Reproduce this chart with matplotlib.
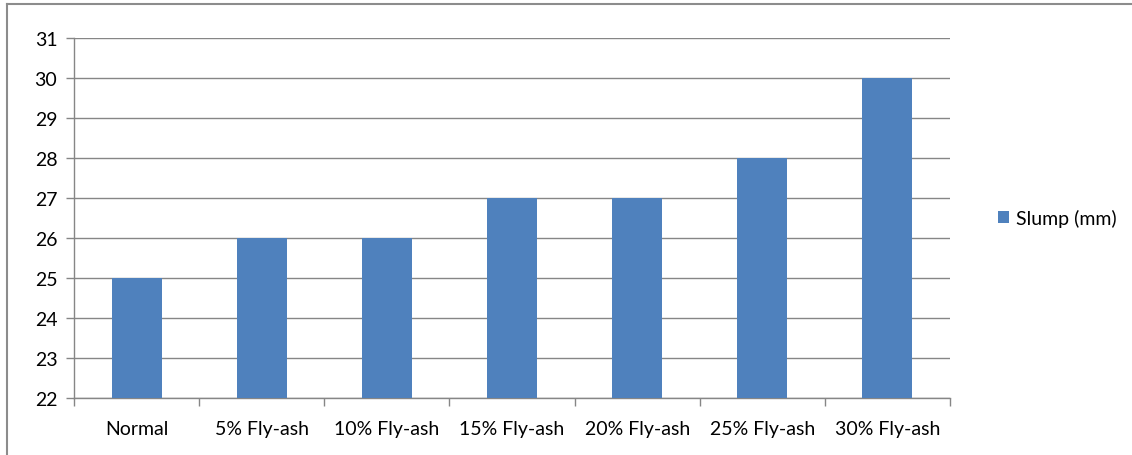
import numpy as np
import matplotlib.pyplot as plt
from matplotlib.lines import Line2D

categories = ["Normal", "5% Fly-ash", "10% Fly-ash", "15% Fly-ash",
              "20% Fly-ash", "25% Fly-ash", "30% Fly-ash"]
slump = [25, 26, 26, 27, 27, 28, 30]
series_name = "Slump (mm)"
y_ticks = list(range(22, 32))

plt.rcParams['font.family'] = ['Lato', 'DejaVu Sans']

W, H = 1132, 456
fig = plt.figure(figsize=(W / 100, H / 100), dpi=100)
ax = fig.add_axes([74 / W, 1 - 399 / H, (950 - 74) / W, (399 - 39) / H])

grid_col = "#868686"
bar_col = "#4f81bd"
fs = 14

x = np.arange(len(categories))
ax.bar(x, slump, width=0.4, color=bar_col, zorder=3, label=series_name)

ax.set_xlim(-0.5, len(categories) - 0.5)
ax.set_ylim(22, 31)
ax.set_yticks(y_ticks)
ax.yaxis.grid(True, color=grid_col, linewidth=1.0, zorder=0)
ax.set_axisbelow(True)

# category labels centered, tick marks at boundaries
ax.set_xticks(x)
ax.set_xticklabels(categories)
ax.tick_params(axis='x', length=0, pad=16, labelsize=fs)
ax.set_xticks(np.arange(-0.5, len(categories)), minor=True)
ax.tick_params(axis='x', which='minor', length=6, color=grid_col, width=1)
ax.tick_params(axis='y', length=6, color=grid_col, width=1, pad=6, labelsize=fs)

for side in ['top', 'right']:
    ax.spines[side].set_visible(False)
for side in ['left', 'bottom']:
    ax.spines[side].set_color(grid_col)
    ax.spines[side].set_linewidth(1)

ax.legend(loc='center left', bbox_to_anchor=(1.035, 0.5), frameon=False,
          fontsize=fs, handlelength=0.55, handleheight=0.55, handletextpad=0.35)

# chart outer border (top and left visible)
fig.add_artist(Line2D([7 / W, 1], [1 - 5 / H, 1 - 5 / H], color="#8c8c8c", lw=1.5))
fig.add_artist(Line2D([7 / W, 7 / W], [0, 1 - 5 / H], color="#8c8c8c", lw=1.5))

fig.savefig("out.png", dpi=100)
